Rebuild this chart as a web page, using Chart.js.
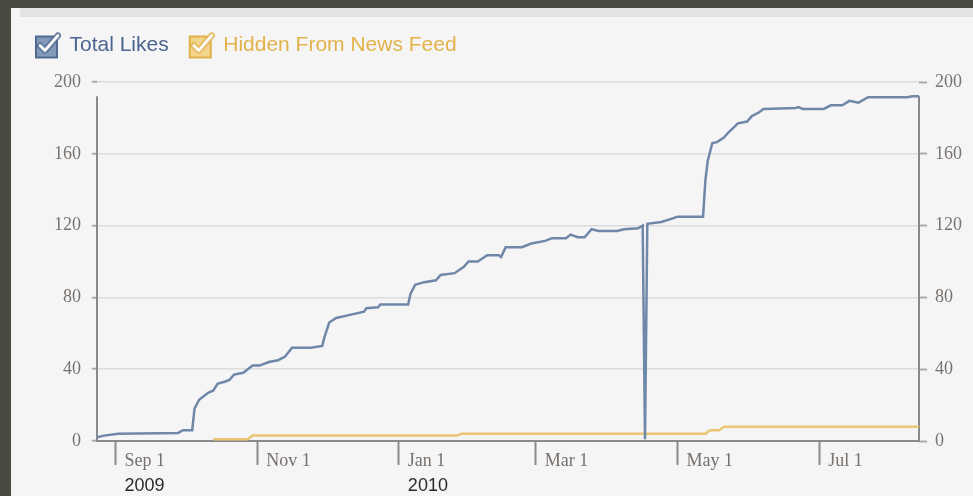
<!DOCTYPE html>
<html>
<head>
<meta charset="utf-8">
<script src="https://cdn.jsdelivr.net/npm/chart.js@4.4.1/dist/chart.umd.min.js"></script>
<style>
  html, body { margin: 0; padding: 0; }
  body { width: 973px; height: 496px; background: #4a4a43; overflow: hidden; position: relative; }
  .panel { position: absolute; left: 11px; top: 8px; right: 0; bottom: 0; background: #f5f5f5; }
  .strip { position: absolute; left: 9px; top: 0; right: 0; height: 9px; background: #e3e3e3; }
  #likesChart { position: absolute; left: 0; top: 7px; }
</style>
</head>
<body>
<div class="panel">
  <div class="strip"></div>
  <canvas id="likesChart" width="962" height="481"></canvas>
</div>
<script>
// series names and colours
const seriesNames = ['Total Likes', 'Hidden From News Feed'];

// Total Likes
const likesDates = [
  '2009-08-24', '2009-08-27', '2009-09-02', '2009-09-28', '2009-09-30', '2009-10-04',
  '2009-10-05', '2009-10-07', '2009-10-11', '2009-10-13', '2009-10-15', '2009-10-18',
  '2009-10-20', '2009-10-22', '2009-10-26', '2009-10-30', '2009-11-02', '2009-11-06',
  '2009-11-10', '2009-11-13', '2009-11-16', '2009-11-24', '2009-11-29', '2009-11-30',
  '2009-12-02', '2009-12-05', '2009-12-10', '2009-12-17', '2009-12-18', '2009-12-23',
  '2009-12-24', '2010-01-05', '2010-01-06', '2010-01-08', '2010-01-12', '2010-01-17',
  '2010-01-19', '2010-01-25', '2010-01-29', '2010-01-31', '2010-02-04', '2010-02-08',
  '2010-02-13', '2010-02-14', '2010-02-16', '2010-02-23', '2010-02-27', '2010-03-05',
  '2010-03-08', '2010-03-14', '2010-03-16', '2010-03-19', '2010-03-22', '2010-03-25',
  '2010-03-28', '2010-04-05', '2010-04-08', '2010-04-14', '2010-04-16', '2010-04-17',
  '2010-04-18', '2010-04-24', '2010-04-29', '2010-05-01', '2010-05-12', '2010-05-13',
  '2010-05-14', '2010-05-16', '2010-05-18', '2010-05-21', '2010-05-23', '2010-05-27',
  '2010-05-31', '2010-06-02', '2010-06-05', '2010-06-07', '2010-06-21', '2010-06-22',
  '2010-06-24', '2010-07-03', '2010-07-06', '2010-07-11', '2010-07-14', '2010-07-18',
  '2010-07-22', '2010-08-08', '2010-08-10', '2010-08-13'
];
const likesValues = [
  2, 3, 4, 4.5, 6, 6,
  18, 23, 27, 28, 32, 33,
  34, 37, 38, 42, 42, 44,
  45, 47, 52, 52, 53, 58,
  66, 68.5, 70, 72, 74, 74.5,
  76, 76, 82, 87, 88.5, 89.5,
  92.5, 93.5, 97, 100, 100, 103.5,
  103.5, 102.5, 108, 108, 110, 111.5,
  113, 113, 115, 113.5, 113.5, 118,
  117, 117, 118, 118.5, 120, 1,
  121, 122, 124, 125, 125, 145,
  156, 166, 166.5, 169, 172, 177,
  178, 181, 183, 185, 185.5, 186,
  185, 185, 187, 187, 189.5, 188.5,
  191.5, 191.5, 192, 192
];

// Hidden From News Feed
const hiddenDates = [
  '2009-10-13', '2009-10-28', '2009-10-30', '2010-01-26', '2010-01-28',
  '2010-05-13', '2010-05-15', '2010-05-19', '2010-05-21', '2010-08-13'
];
const hiddenValues = [1, 1, 3, 3, 4, 4, 6, 6, 8, 8];

// x axis range and ticks
const xStart = '2009-08-24';
const xEnd = '2010-08-13';
const xTickDates = ['2009-09-01', '2009-11-01', '2010-01-01', '2010-03-01', '2010-05-01', '2010-07-01'];
const xTickLabels = ['Sep 1', 'Nov 1', 'Jan 1', 'Mar 1', 'May 1', 'Jul 1'];
const yearTickDates = ['2009-09-01', '2010-01-01'];
const yearLabels = ['2009', '2010'];

// y axis
const yMin = 0;
const yMax = 200;
const yStep = 40;

// dias desde 1 de setembro de 2009
const origin = Date.UTC(2009, 8, 1);
function dayOf(s) {
  const p = s.split('-').map(Number);
  return (Date.UTC(p[0], p[1] - 1, p[2]) - origin) / 86400000;
}
function toPoints(dates, values) {
  return dates.map((d, i) => ({ x: dayOf(d), y: values[i] }));
}

// caixinha de seleção da legenda
function makeCheck(fill, stroke) {
  const c = document.createElement('canvas');
  c.width = 28; c.height = 28;
  const g = c.getContext('2d');
  g.fillStyle = fill;
  g.strokeStyle = stroke;
  g.lineWidth = 2;
  g.fillRect(3, 5, 21, 21);
  g.strokeRect(3, 5, 21, 21);
  g.lineCap = 'round';
  g.lineJoin = 'round';
  const tick = () => { g.beginPath(); g.moveTo(7, 14); g.lineTo(12, 19); g.lineTo(25, 4); };
  tick(); g.strokeStyle = stroke; g.lineWidth = 6; g.stroke();
  tick(); g.strokeStyle = '#ffffff'; g.lineWidth = 3; g.stroke();
  return c;
}
const icons = [makeCheck('#8299ba', '#4f6991'), makeCheck('#f3d68c', '#dfb04a')];
const lineColors = ['#6f87a9', '#ebc676'];
const textColors = ['#4a6391', '#e3b24a'];

// linhas verticais dos eixos só até o valor máximo
const axisLines = {
  id: 'axisLines',
  beforeDatasetsDraw(chart) {
    const ctx = chart.ctx;
    const y = chart.scales.y;
    const top = y.getPixelForValue(Math.max(...likesValues));
    const bottom = y.getPixelForValue(0);
    ctx.save();
    ctx.strokeStyle = '#8a8a8a';
    ctx.lineWidth = 2;
    [chart.chartArea.left, chart.chartArea.right].forEach(x => {
      ctx.beginPath();
      ctx.moveTo(x, top);
      ctx.lineTo(x, bottom);
      ctx.stroke();
    });
    ctx.restore();
  }
};

// altura fixa da legenda
const legendHeight = {
  id: 'legendHeight',
  beforeInit(chart) {
    if (!chart.legend) return;
    const fit = chart.legend.fit;
    chart.legend.fit = function () {
      fit.call(this);
      this.height = 67;
    };
  }
};

const tickFont = { family: 'Liberation Serif', size: 18 };

new Chart(document.getElementById('likesChart'), {
  type: 'line',
  data: {
    datasets: [
      {
        label: seriesNames[0],
        data: toPoints(likesDates, likesValues),
        borderColor: lineColors[0],
        borderWidth: 2.5,
        pointRadius: 0,
        tension: 0
      },
      {
        label: seriesNames[1],
        data: toPoints(hiddenDates, hiddenValues),
        borderColor: lineColors[1],
        borderWidth: 2.5,
        pointRadius: 0,
        tension: 0
      }
    ]
  },
  options: {
    responsive: false,
    animation: false,
    devicePixelRatio: 1,
    layout: { padding: { left: 4, right: 0, top: 0, bottom: 0 } },
    plugins: {
      tooltip: { enabled: false },
      legend: {
        position: 'top',
        align: 'start',
        labels: {
          usePointStyle: true,
          pointStyleWidth: 24,
          boxHeight: 21,
          padding: 20,
          font: { family: 'Liberation Sans', size: 21 },
          generateLabels(chart) {
            return Chart.defaults.plugins.legend.labels.generateLabels(chart).map((item, i) => {
              item.pointStyle = icons[i];
              item.fontColor = textColors[i];
              return item;
            });
          }
        }
      }
    },
    scales: {
      x: {
        type: 'linear',
        position: 'bottom',
        weight: 0,
        min: dayOf(xStart),
        max: dayOf(xEnd),
        afterBuildTicks: s => { s.ticks = xTickDates.map(d => ({ value: dayOf(d) })); },
        afterFit: s => { s.height = 32; },
        grid: { drawOnChartArea: false, tickLength: 24, tickColor: '#8a8a8a', tickWidth: 2 },
        border: { color: '#8a8a8a', width: 2 },
        ticks: {
          autoSkip: false,
          maxRotation: 0,
          align: 'start',
          labelOffset: 9,
          padding: -15,
          color: '#76706c',
          font: tickFont,
          callback: (v, i) => xTickLabels[i]
        }
      },
      years: {
        type: 'linear',
        position: 'bottom',
        weight: 1,
        min: dayOf(xStart),
        max: dayOf(xEnd),
        afterBuildTicks: s => { s.ticks = yearTickDates.map(d => ({ value: dayOf(d) })); },
        afterFit: s => { s.height = 23; },
        grid: { display: false, drawTicks: false },
        border: { display: false },
        ticks: {
          autoSkip: false,
          maxRotation: 0,
          align: 'start',
          labelOffset: 9,
          padding: 2,
          color: '#2a2a2a',
          font: { family: 'Liberation Sans', size: 18 },
          callback: (v, i) => yearLabels[i]
        }
      },
      y: {
        position: 'left',
        min: yMin,
        max: yMax,
        afterFit: s => { s.width = 82; },
        grid: { color: '#dcdcdc', lineWidth: 1.5, tickLength: 5, tickColor: '#aaaaaa', tickWidth: 2 },
        border: { display: false },
        ticks: { stepSize: yStep, padding: 11, color: '#7a7470', font: tickFont }
      },
      y2: {
        position: 'right',
        min: yMin,
        max: yMax,
        afterFit: s => { s.width = 54; },
        grid: { drawOnChartArea: false, tickLength: 8, tickColor: '#aaaaaa', tickWidth: 2 },
        border: { display: false },
        ticks: { stepSize: yStep, padding: 8, color: '#7a7470', font: tickFont }
      }
    }
  },
  plugins: [axisLines, legendHeight]
});
</script>
</body>
</html>
